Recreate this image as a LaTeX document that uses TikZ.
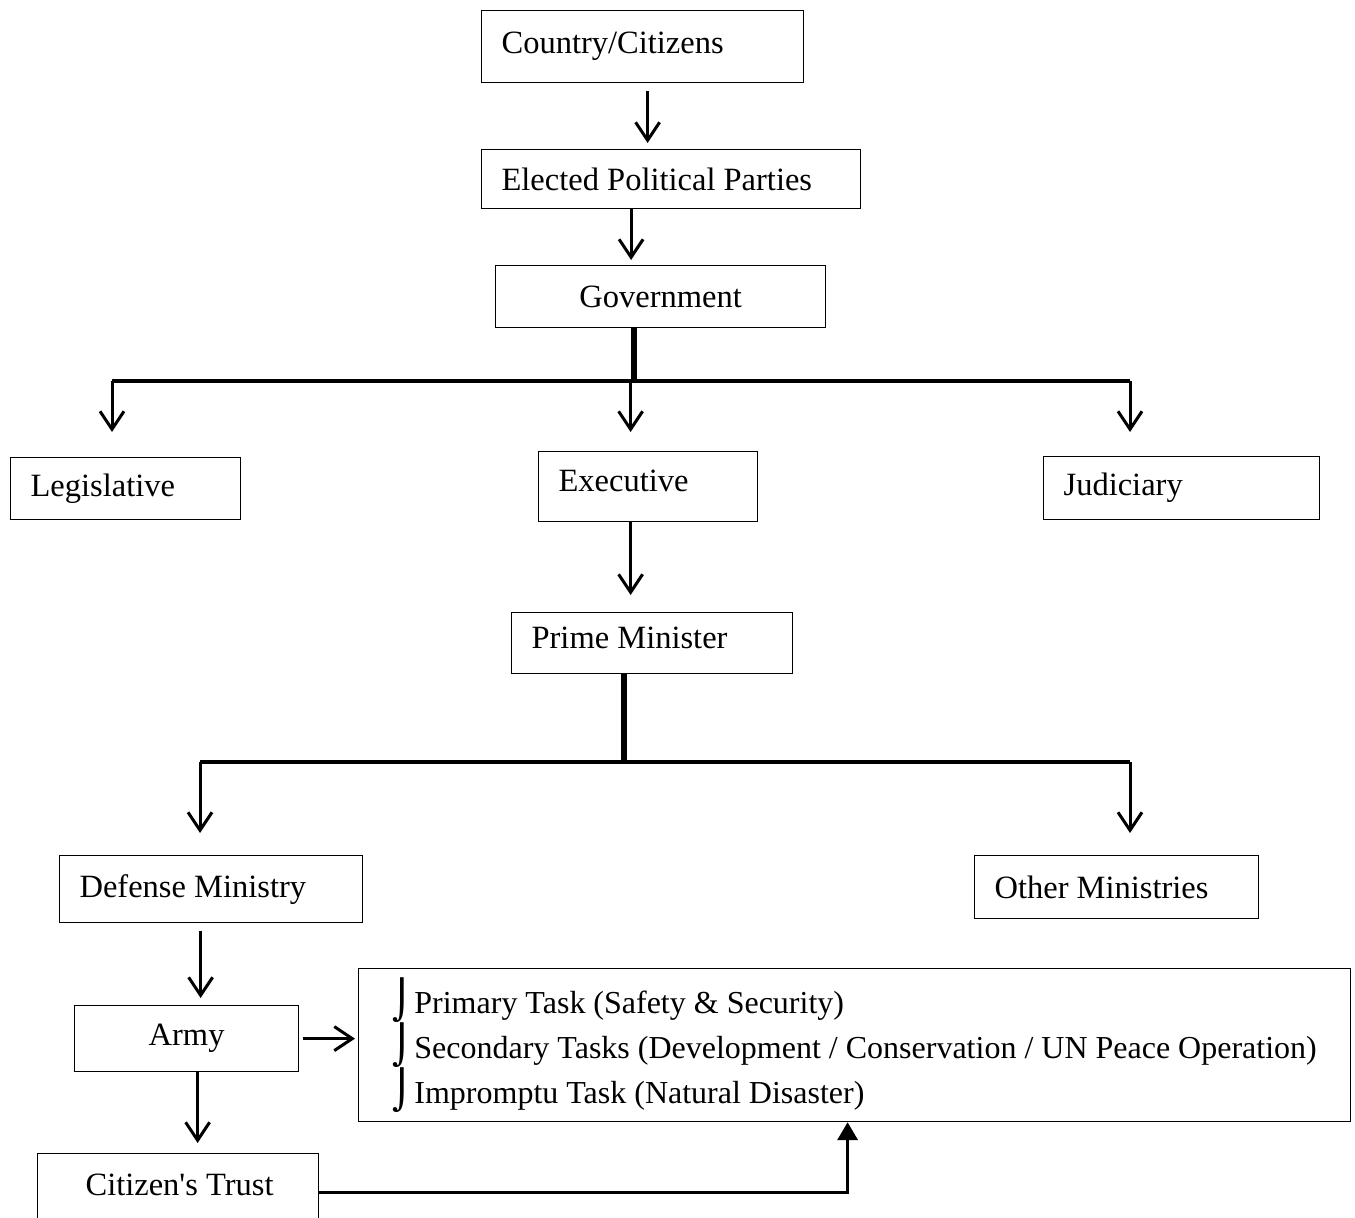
\documentclass[tikz,border=0pt]{standalone}
\usepackage{fontspec}
\setmainfont{Liberation Serif}
\newfontfamily\markfont{DejaVu Sans}
\usetikzlibrary{arrows.meta,positioning}

\newcommand{\taskmark}{\hspace*{17pt}{\markfont\fontsize{19}{19}\selectfont ⌡}\hspace{1pt}}

\begin{document}
\begin{tikzpicture}[x=0.5pt,y=-0.5pt,
    font=\fontsize{16.25}{20}\selectfont,
    box/.style={draw, line width=0.6pt, anchor=north west, inner xsep=10pt, inner ysep=0pt, align=flush left},
    arr/.style={-{Straight Barb[length=9pt,width=12pt]}, line width=1.5pt},
    stem/.style={line width=3pt},
    bar/.style={line width=1.8pt}]

    \clip (0,0) rectangle (1355,1218);

    \node[box, text width=141pt, minimum height=36pt] (country) at (481,10) {Country/Citizens};
    \node[box, text width=169.5pt, minimum height=29.5pt] (elected) at (481,149) {Elected Political Parties};
    \node[box, align=flush center, text width=145pt, minimum height=31pt] (gov) at (495,265) {Government};

    \node[box, text width=95pt, minimum height=31pt] (legis) at (10,457) {Legislative};
    \node[box, text width=89.5pt, minimum height=35pt, text depth=6pt] (exec) at (538,451) {Executive};
    \node[box, text width=118pt, minimum height=31.5pt] (judic) at (1043,456) {Judiciary};

    \node[box, text width=120.5pt, minimum height=30.5pt, text depth=5pt] (pm) at (511,612) {Prime Minister};

    \node[box, text width=131.5pt, minimum height=33.5pt] (defense) at (59,855) {Defense Ministry};
    \node[box, text width=122pt, minimum height=31.5pt] (other) at (974,855) {Other Ministries};

    \node[box, align=flush center, text width=92pt, minimum height=33pt] (army) at (74,1005) {Army};
    \node[box, inner xsep=0pt, text width=496pt, minimum height=76.5pt,
          font=\fontsize{16}{22.5}\selectfont] (tasks) at (358,968)
        {\taskmark Primary Task (Safety \& Security)\\
         \taskmark Secondary Tasks (Development / Conservation / UN Peace Operation)\\
         \taskmark Impromptu Task (Natural Disaster)};
    \node[box, text width=120.5pt, minimum height=39pt, text depth=8pt] (trust) at (37,1153) {\hspace*{14pt}Citizen\textquotesingle s Trust};

    % top chain
    \draw[arr, shorten <=4pt, shorten >=3pt] ([xshift=2.5pt]country.south) -- ([xshift=2.5pt]country.south |- elected.north);
    \draw[arr, shorten >=2.5pt] ([xshift=-20pt]elected.south) -- ([xshift=-20pt]elected.south |- gov.north);

    % government branches
    \coordinate (gl) at (112,381);
    \coordinate (gr) at (1130,381);
    \draw[stem] ([xshift=-13.5pt]gov.south) -- ([xshift=-13.5pt]gov.south |- gl);
    \draw[bar] (gl) -- (gr);
    \draw[arr, shorten >=12.5pt] (gl) -- (gl |- legis.north);
    \draw[arr, shorten >=9.5pt] ([xshift=-8.75pt]exec.north |- gl) -- ([xshift=-8.75pt]exec.north);
    \draw[arr, shorten >=12pt] (gr) -- (gr |- judic.north);

    \draw[arr, shorten >=8.5pt] ([xshift=-8.75pt]exec.south) -- ([xshift=-8.75pt]exec.south |- pm.north);

    % ministries
    \coordinate (ml) at (200,762);
    \coordinate (mr) at (1130,762);
    \draw[stem] ([xshift=-14.25pt]pm.south) -- ([xshift=-14.25pt]pm.south |- ml);
    \draw[bar] (ml) -- (mr);
    \draw[arr, shorten >=11pt] (ml) -- (ml |- defense.north);
    \draw[arr, shorten >=11pt] (mr) -- (mr |- other.north);

    % army
    \draw[arr, shorten <=4pt, shorten >=3.5pt] ([xshift=-5.25pt]defense.south) -- ([xshift=-5.25pt]defense.south |- army.north);
    \draw[arr, shorten <=2pt, shorten >=1.5pt] (army.east) -- (army.east -| tasks.west);
    \draw[arr, shorten >=5pt] ([xshift=5.5pt]army.south) -- ([xshift=5.5pt]army.south |- trust.north);
    \draw[-{Triangle[length=9pt,width=10pt]}, line width=1.8pt] (trust.east) -| ([xshift=-3.5pt]tasks.south);
\end{tikzpicture}
\end{document}
